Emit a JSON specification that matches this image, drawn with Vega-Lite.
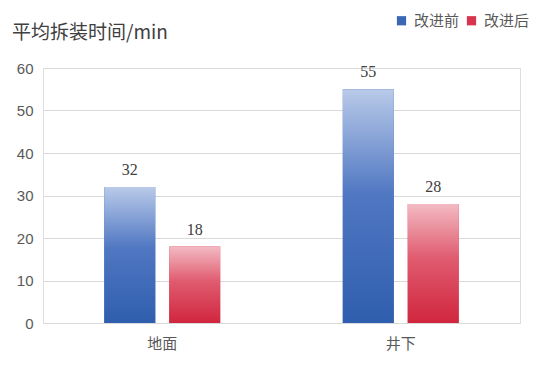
{
  "$schema": "https://vega.github.io/schema/vega-lite/v6.json",
  "autosize": {"type": "none"},
  "width": 477,
  "height": 255,
  "padding": {"left": 43, "top": 68, "right": 30, "bottom": 50},
  "background": "white",
  "title": {
    "text": "平均拆装时间/min",
    "anchor": "start",
    "frame": "group",
    "dx": -31,
    "offset": 0,
    "dy": 30,
    "font": "Noto Sans CJK SC",
    "fontSize": 19,
    "fontWeight": "normal",
    "color": "#404040"
  },
  "data": {
    "values": [
      {"region": "地面", "phase": "改进前", "value": 32},
      {"region": "地面", "phase": "改进后", "value": 18},
      {"region": "井下", "phase": "改进前", "value": 55},
      {"region": "井下", "phase": "改进后", "value": 28}
    ]
  },
  "encoding": {
    "x": {
      "field": "region",
      "type": "nominal",
      "sort": ["地面", "井下"],
      "scale": {"paddingInner": 0.514, "paddingOuter": 0.257},
      "axis": {
        "title": null,
        "labelAngle": 0,
        "ticks": false,
        "domainColor": "#d9d9d9",
        "labelPadding": 13,
        "labelFont": "Noto Sans CJK SC",
        "labelFontSize": 15,
        "labelColor": "#595959"
      }
    },
    "xOffset": {
      "field": "phase",
      "type": "nominal",
      "sort": ["改进前", "改进后"],
      "scale": {"domain": ["改进前", "改进后"], "paddingInner": 0.215, "paddingOuter": 0}
    },
    "y": {
      "field": "value",
      "type": "quantitative",
      "scale": {"domain": [0, 60], "nice": false},
      "axis": {
        "title": null,
        "values": [0, 10, 20, 30, 40, 50, 60],
        "grid": true,
        "gridColor": "#d9d9d9",
        "domain": false,
        "ticks": false,
        "labelPadding": 10,
        "labelFont": "Liberation Sans",
        "labelFontSize": 15,
        "labelColor": "#595959"
      }
    }
  },
  "layer": [
    {
      "mark": {"type": "bar"},
      "encoding": {
        "color": {
          "field": "phase",
          "type": "nominal",
          "scale": {"domain": ["改进前", "改进后"], "range": ["#3a66b6", "#d8354d"]},
          "legend": {
            "title": null,
            "orient": "none",
            "legendX": 351,
            "legendY": -55,
            "direction": "horizontal",
            "symbolType": "square",
            "symbolSize": 85,
            "symbolStrokeWidth": 0,
            "labelFont": "Noto Sans CJK SC",
            "labelFontSize": 15,
            "labelColor": "#595959",
            "labelOffset": 5,
            "columnPadding": 4
          }
        }
      }
    },
    {
      "transform": [{"filter": "datum.phase === '改进前'"}],
      "mark": {
        "type": "bar",
        "color": {
          "gradient": "linear",
          "x1": 0, "y1": 0, "x2": 0, "y2": 1,
          "stops": [
            {"offset": 0, "color": "#b9cae9"},
            {"offset": 0.45, "color": "#5077c2"},
            {"offset": 1, "color": "#2f5eae"}
          ]
        }
      }
    },
    {
      "transform": [{"filter": "datum.phase === '改进后'"}],
      "mark": {
        "type": "bar",
        "color": {
          "gradient": "linear",
          "x1": 0, "y1": 0, "x2": 0, "y2": 1,
          "stops": [
            {"offset": 0, "color": "#f3bac3"},
            {"offset": 0.45, "color": "#e05c70"},
            {"offset": 1, "color": "#d0263e"}
          ]
        }
      }
    },
    {
      "mark": {
        "type": "text",
        "dy": -9,
        "baseline": "bottom",
        "font": "Liberation Serif",
        "fontSize": 16,
        "color": "#404040"
      },
      "encoding": {"text": {"field": "value", "type": "quantitative"}}
    }
  ]
}
